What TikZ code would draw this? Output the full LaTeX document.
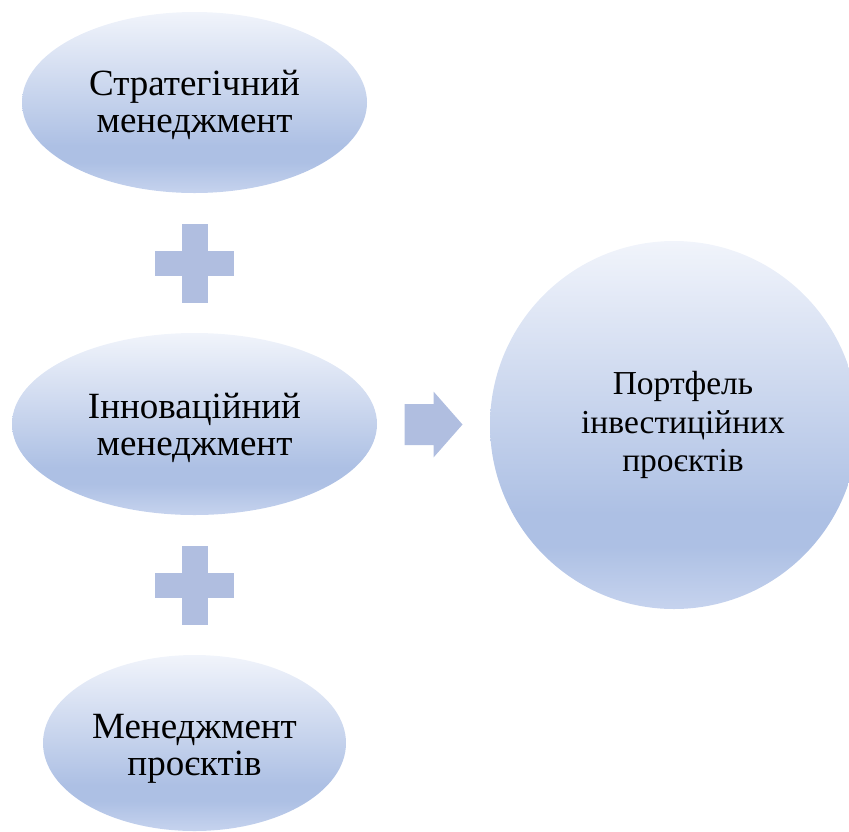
\documentclass[tikz,border=0pt]{standalone}
\usepackage{fontspec}
\setmainfont{Liberation Serif}
\usetikzlibrary{shapes.geometric,calc}
\definecolor{shapecol}{RGB}{176,190,224}
\definecolor{gtop}{RGB}{241,244,251}
\definecolor{gmid}{RGB}{173,192,228}
\definecolor{gbot}{RGB}{198,211,238}
\pgfdeclareverticalshading{blobshade}{100bp}{color(0bp)=(gbot); color(25bp)=(gbot); color(33.5bp)=(gmid); color(38bp)=(gmid); color(75bp)=(gtop); color(100bp)=(gtop)}
\tikzset{
  blob/.style={ellipse, shading=blobshade, inner sep=0pt},
  roundblob/.style={circle, shading=blobshade, inner sep=0pt},
  etext/.style={inner sep=0pt, align=center, font=\fontsize{37}{36.5}\selectfont},
  ctext/.style={inner sep=0pt, align=center, font=\fontsize{33.5}{38.5}\selectfont},
  barshape/.style={rectangle, fill=shapecol, inner sep=0pt}
}
\begin{document}
\begin{tikzpicture}[x=1pt,y=-1pt]
\useasboundingbox (0,0) rectangle (849,831);
\node[blob, minimum width=345pt, minimum height=181pt] (s) at (194.5,102.5) {};
\node[blob, minimum width=365pt, minimum height=182pt] (i) at (194.5,424) {};
\node[blob, minimum width=303pt, minimum height=176pt] (m) at (194.5,743) {};
\node[roundblob, minimum size=368pt] (p) at (674,425) {};
\node[etext] (st) at ($(s)+(0,2.5)$) {Стратегічний\\менеджмент};
\node[etext] (it) at ($(i)+(0,4)$) {Інноваційний\\менеджмент};
\node[etext] (mt) at ($(m)+(0,6)$) {Менеджмент\\проєктів};
\node[ctext] (pt) at ($(p)+(9,0)$) {Портфель\\інвестиційних\\проєктів};
\coordinate (c1) at ($(s.south)!0.5!(i.north)$);
\coordinate (c2) at ($(i.south)!0.5!(m.north)$);
\coordinate (c3) at ($(i.east)!0.5!(p.west)$);
\node[barshape, minimum width=79pt, minimum height=25pt] (p1h) at (c1) {};
\node[barshape, minimum width=26pt, minimum height=79pt] (p1v) at (c1) {};
\node[barshape, minimum width=79pt, minimum height=25pt] (p2h) at (c2) {};
\node[barshape, minimum width=26pt, minimum height=79pt] (p2v) at (c2) {};
\fill[shapecol] ($(c3)+(-29,-20.5)$) -- ($(c3)+(0,-20.5)$) -- ($(c3)+(0,-33)$) -- ($(c3)+(29,0)$) -- ($(c3)+(0,33)$) -- ($(c3)+(0,20.5)$) -- ($(c3)+(-29,20.5)$) -- cycle;
\end{tikzpicture}
\end{document}
